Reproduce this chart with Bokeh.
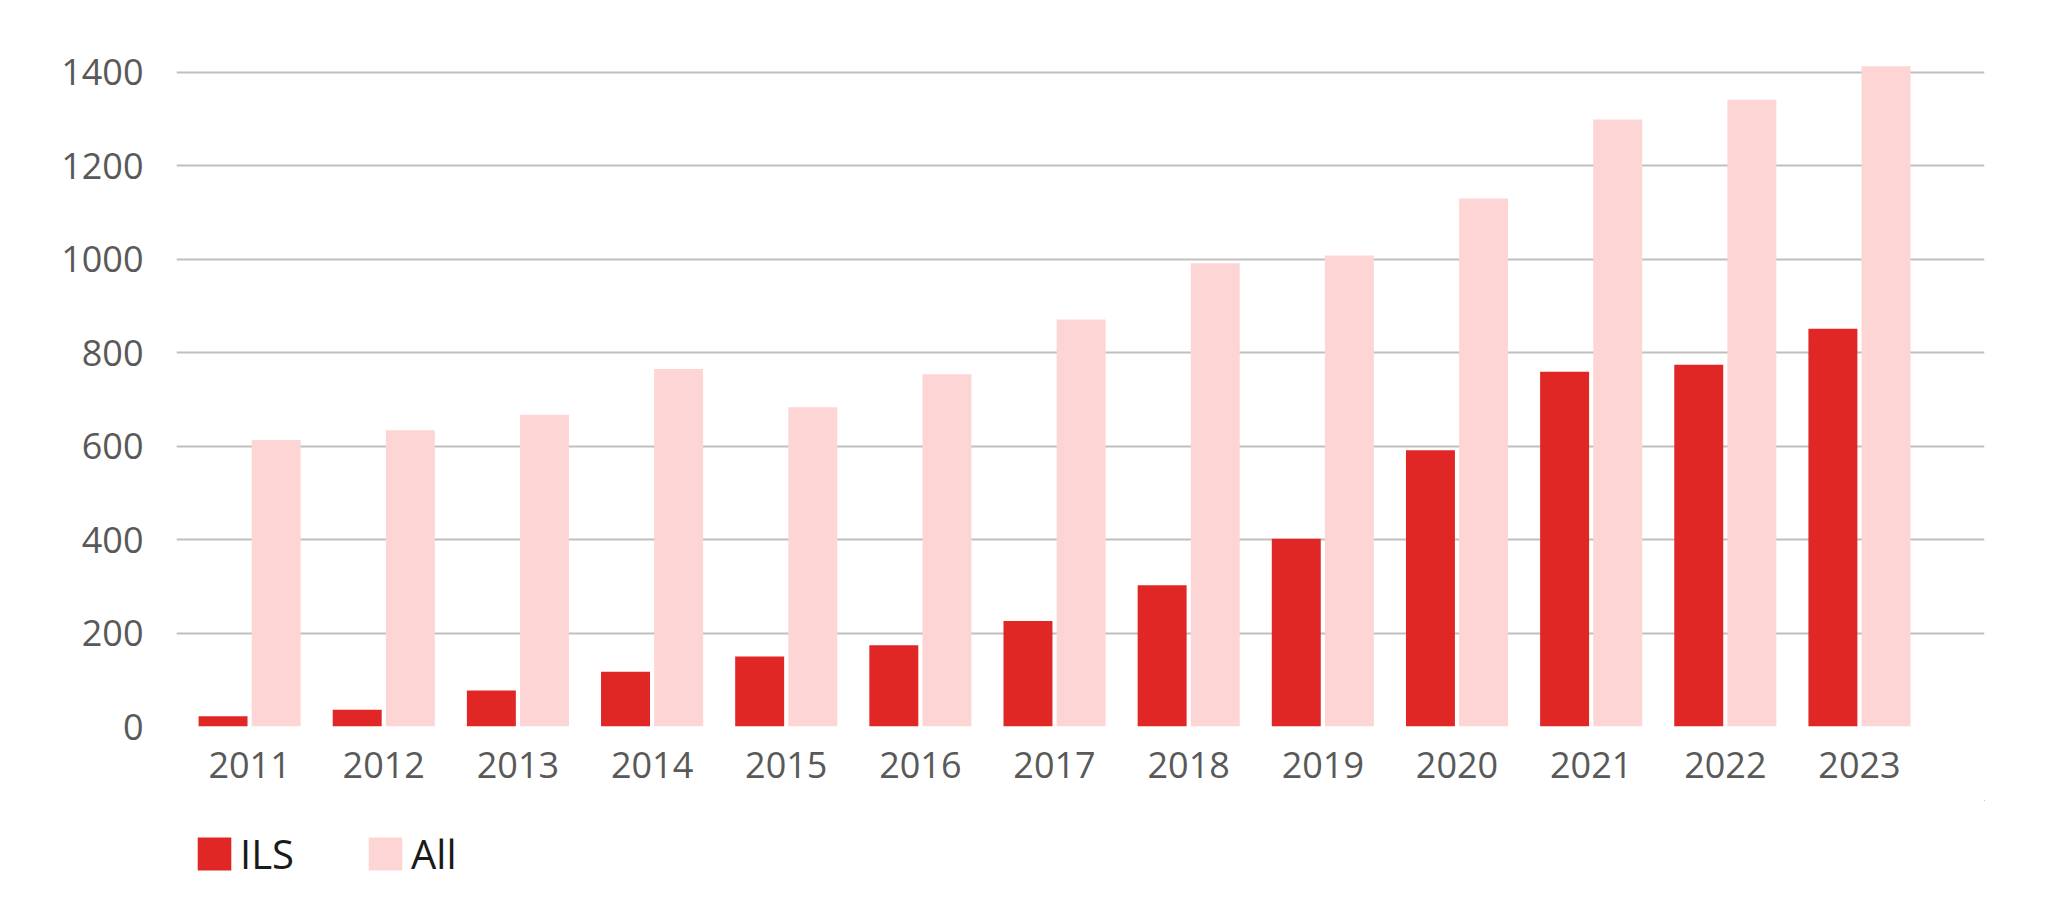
from bokeh.plotting import figure
from bokeh.models import ColumnDataSource, Range1d, FixedTicker, Legend, LegendItem
from bokeh.layouts import column
from bokeh.transform import dodge
from bokeh.embed import file_html
from bokeh.resources import INLINE

years = [2011, 2012, 2013, 2014, 2015, 2016, 2017, 2018, 2019, 2020, 2021, 2022, 2023]
year_labels = ["2011", "2012", "2013", "2014", "2015", "2016", "2017",
               "2018", "2019", "2020", "2021", "2022", "2023"]
ils = [22, 36, 77, 117, 150, 174, 226, 302, 402, 591, 759, 774, 851]
all_vals = [613, 634, 667, 765, 683, 754, 871, 991, 1008, 1130, 1299, 1341, 1413]
y_ticks = [0, 200, 400, 600, 800, 1000, 1200, 1400]
series_names = ["ILS", "All"]

RED = "#e02726"
PINK = "#fdd5d5"
FONT = "Open Sans"

src = ColumnDataSource(dict(year=years, ils=ils, all=all_vals))

p = figure(width=2050, height=800, output_backend="svg", toolbar_location=None,
           x_range=Range1d(2010.455, 2023.932), y_range=Range1d(0, 1500),
           min_border_left=176, min_border_right=66, min_border_top=25,
           min_border_bottom=74)

p.vbar(x=dodge("year", -0.198, range=p.x_range), top="ils", width=0.365,
       source=src, fill_color=RED, line_color=None)
p.vbar(x=dodge("year", 0.198, range=p.x_range), top="all", width=0.365,
       source=src, fill_color=PINK, line_color=None)

p.outline_line_color = None
p.background_fill_color = "white"
p.border_fill_color = "white"

p.xgrid.grid_line_color = None
p.ygrid.grid_line_color = "#bfbfbf"
p.ygrid.grid_line_width = 2

p.yaxis.ticker = FixedTicker(ticks=y_ticks)
p.xaxis.ticker = FixedTicker(ticks=years)
p.xaxis.major_label_overrides = {y: l for y, l in zip(years, year_labels)}

for ax in (p.xaxis, p.yaxis):
    ax.axis_line_color = None
    ax.major_tick_line_color = None
    ax.minor_tick_line_color = None
    ax.major_tick_in = 0
    ax.major_tick_out = 0
    ax.major_label_text_font = FONT
    ax.major_label_text_font_size = "36px"
    ax.major_label_text_color = "#595959"

p.yaxis.major_label_standoff = 33
p.xaxis.major_label_standoff = 25

# legend strip below the chart; its renderers share the data but lie outside this strip's ranges
p2 = figure(width=2050, height=106, output_backend="svg", toolbar_location=None,
            x_axis_type=None, y_axis_type=None, min_border=0,
            x_range=Range1d(0, 1), y_range=Range1d(-2, -1))
p2.outline_line_color = None
p2.grid.grid_line_color = None
p2.background_fill_color = "white"
p2.border_fill_color = "white"
l_ils = p2.vbar(x="year", top="ils", width=0, source=src,
                fill_color=RED, line_color=None)
l_all = p2.vbar(x="year", top="all", width=0, source=src,
                fill_color=PINK, line_color=None)

legend = Legend(items=[LegendItem(label=series_names[0], renderers=[l_ils]),
                       LegendItem(label=series_names[1], renderers=[l_all])],
                orientation="horizontal", location=(17, 25),
                glyph_width=42, glyph_height=41, label_height=41,
                label_standoff=5, spacing=70, padding=18, margin=0,
                label_text_font=FONT, label_text_font_size="40px",
                label_text_color="#1a1a1a", border_line_color=None,
                background_fill_alpha=0)
p2.add_layout(legend, "center")

layout = column(p, p2, spacing=0)
open("out.html", "w").write(file_html(layout, INLINE))
